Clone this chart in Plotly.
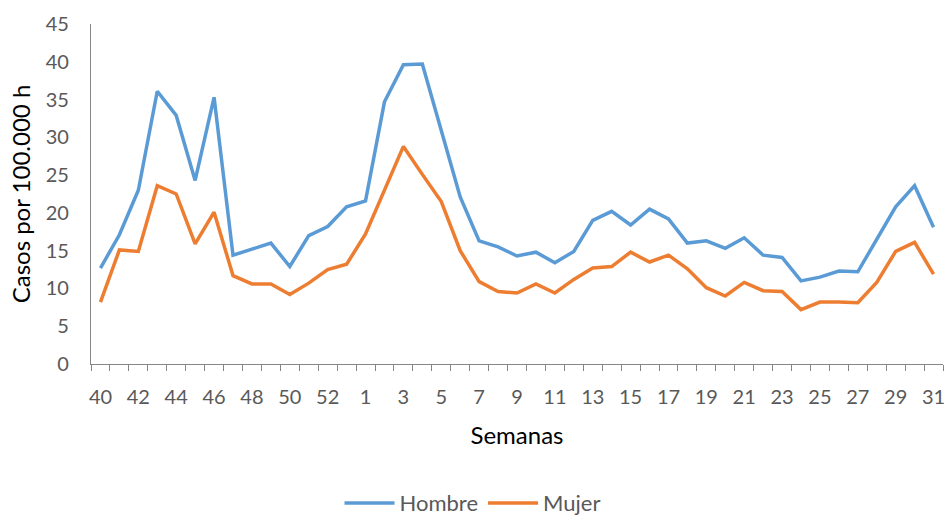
import plotly.graph_objects as go

weeks = [40, 41, 42, 43, 44, 45, 46, 47, 48, 49, 50, 51, 52, 53,
         1, 2, 3, 4, 5, 6, 7, 8, 9, 10, 11, 12, 13, 14, 15, 16, 17, 18, 19, 20,
         21, 22, 23, 24, 25, 26, 27, 28, 29, 30, 31]

hombre = [12.7, 17.1, 23.0, 36.1, 32.9, 24.3, 35.3, 14.4, 15.2, 16.0, 12.9, 17.0, 18.2, 20.8,
          21.6, 34.7, 39.6, 39.7, 30.9, 22.1, 16.3, 15.5, 14.3, 14.8, 13.4, 14.9, 19.0, 20.2,
          18.4, 20.5, 19.2, 16.0, 16.3, 15.3, 16.7, 14.4, 14.1, 11.0, 11.5, 12.3, 12.2, 16.5,
          20.8, 23.6, 18.1]

mujer = [8.2, 15.1, 14.9, 23.6, 22.5, 15.9, 20.1, 11.7, 10.6, 10.6, 9.2, 10.7, 12.5, 13.2,
         17.2, 23.0, 28.8, 25.1, 21.5, 15.0, 10.9, 9.6, 9.4, 10.6, 9.4, 11.2, 12.7, 12.9,
         14.8, 13.5, 14.4, 12.6, 10.1, 9.0, 10.8, 9.7, 9.6, 7.2, 8.2, 8.2, 8.1, 10.8,
         14.9, 16.1, 11.9]

y_ticks = [0, 5, 10, 15, 20, 25, 30, 35, 40, 45]

idx = list(range(len(weeks)))
label_idx = idx[::2]
label_txt = [str(weeks[i]) for i in label_idx]
boundaries = [i - 0.5 for i in idx] + [idx[-1] + 0.5]

FONT = "Lato, 'Open Sans', sans-serif"
GRAY = "#595959"
AXIS = "#868686"

W, H = 945, 517
PL, PR, PT, PB = 91, 943, 23.5, 364.5  # plot area in window pixels

fig = go.Figure()
fig.add_trace(go.Scatter(x=idx, y=hombre, mode="lines", name="Hombre",
                         line=dict(color="#5B9BD5", width=3.5)))
fig.add_trace(go.Scatter(x=idx, y=mujer, mode="lines", name="Mujer",
                         line=dict(color="#ED7D31", width=3.5)))

fig.update_layout(
    width=W, height=H,
    margin=dict(l=PL, r=W - PR, t=PT, b=H - PB, autoexpand=False),
    paper_bgcolor="white", plot_bgcolor="white",
    font=dict(family=FONT, color=GRAY),
    showlegend=True,
    legend=dict(orientation="h", x=(472.5 - PL) / (PR - PL), xanchor="center",
                y=(PB - 504) / (PB - PT), yanchor="middle",
                font=dict(size=22, color=GRAY, family=FONT),
                itemwidth=50, bgcolor="rgba(0,0,0,0)"),
    xaxis=dict(
        range=[-0.5, len(weeks) - 0.5],
        tickmode="array", tickvals=label_idx, ticktext=label_txt,
        ticks="", ticklabelstandoff=15, ticklabeloverflow="allow",
        tickfont=dict(size=20, color=GRAY, family=FONT),
        showline=True, linecolor=AXIS, linewidth=1.3,
        showgrid=False, zeroline=False,
        minor=dict(tickmode="array", tickvals=boundaries, ticks="outside",
                   ticklen=6, tickcolor=AXIS, tickwidth=1.3, showgrid=False),
        title=dict(text="Semanas", standoff=20,
                   font=dict(size=24, color="black", family=FONT)),
        fixedrange=True,
    ),
    yaxis=dict(
        range=[0, 45],
        tickmode="array", tickvals=y_ticks,
        ticks="", ticklabelstandoff=17,
        tickfont=dict(size=20, color=GRAY, family=FONT),
        showline=True, linecolor=AXIS, linewidth=1.3,
        showgrid=False, zeroline=False,
        title=dict(text="Casos por 100.000 h", standoff=8,
                   font=dict(size=24, color="black", family=FONT)),
        fixedrange=True,
    ),
)

fig.write_html(
    "out.html",
    config={"displayModeBar": False},
    post_script="document.body.style.margin='0';document.body.style.overflow='hidden';",
)
